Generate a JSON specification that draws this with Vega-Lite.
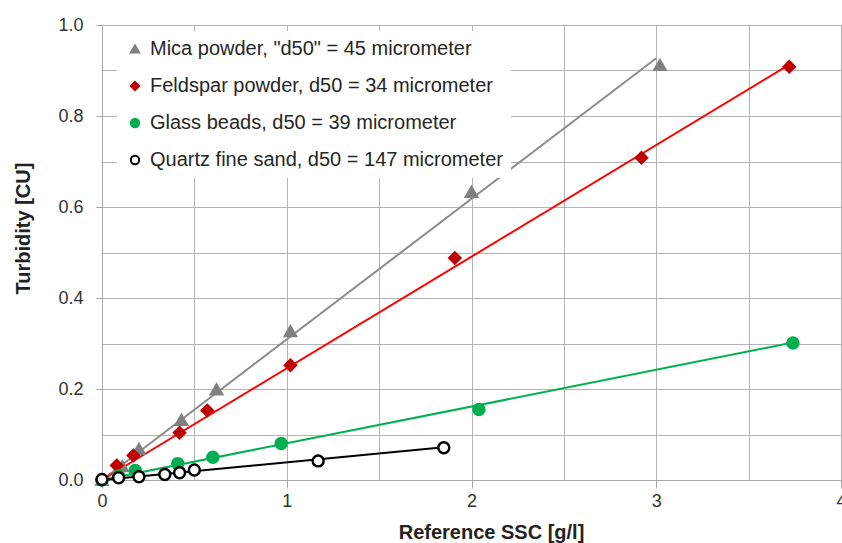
{
  "$schema": "https://vega.github.io/schema/vega-lite/v6.json",
  "width": 739,
  "height": 455,
  "autosize": "none",
  "padding": {"left": 102, "top": 25, "right": 1, "bottom": 63},
  "background": "white",
  "config": {
    "font": "Liberation Sans",
    "view": {"stroke": null}
  },
  "datasets": {
    "pts": [
      {"series": "Mica powder, \"d50\" = 45 micrometer", "ssc": 0, "turb": 0},
      {"series": "Mica powder, \"d50\" = 45 micrometer", "ssc": 0.11, "turb": 0.03},
      {"series": "Mica powder, \"d50\" = 45 micrometer", "ssc": 0.2, "turb": 0.068},
      {"series": "Mica powder, \"d50\" = 45 micrometer", "ssc": 0.43, "turb": 0.132},
      {"series": "Mica powder, \"d50\" = 45 micrometer", "ssc": 0.62, "turb": 0.199},
      {"series": "Mica powder, \"d50\" = 45 micrometer", "ssc": 1.02, "turb": 0.327},
      {"series": "Mica powder, \"d50\" = 45 micrometer", "ssc": 2.0, "turb": 0.633},
      {"series": "Mica powder, \"d50\" = 45 micrometer", "ssc": 3.02, "turb": 0.912},
      {"series": "Feldspar powder, d50 = 34 micrometer", "ssc": 0, "turb": 0},
      {"series": "Feldspar powder, d50 = 34 micrometer", "ssc": 0.08, "turb": 0.032},
      {"series": "Feldspar powder, d50 = 34 micrometer", "ssc": 0.17, "turb": 0.054},
      {"series": "Feldspar powder, d50 = 34 micrometer", "ssc": 0.42, "turb": 0.104},
      {"series": "Feldspar powder, d50 = 34 micrometer", "ssc": 0.57, "turb": 0.153},
      {"series": "Feldspar powder, d50 = 34 micrometer", "ssc": 1.02, "turb": 0.252},
      {"series": "Feldspar powder, d50 = 34 micrometer", "ssc": 1.91, "turb": 0.488},
      {"series": "Feldspar powder, d50 = 34 micrometer", "ssc": 2.92, "turb": 0.708},
      {"series": "Feldspar powder, d50 = 34 micrometer", "ssc": 3.72, "turb": 0.908},
      {"series": "Glass beads, d50 = 39 micrometer", "ssc": 0, "turb": 0},
      {"series": "Glass beads, d50 = 39 micrometer", "ssc": 0.09, "turb": 0.009},
      {"series": "Glass beads, d50 = 39 micrometer", "ssc": 0.18, "turb": 0.021},
      {"series": "Glass beads, d50 = 39 micrometer", "ssc": 0.41, "turb": 0.036},
      {"series": "Glass beads, d50 = 39 micrometer", "ssc": 0.6, "turb": 0.05},
      {"series": "Glass beads, d50 = 39 micrometer", "ssc": 0.97, "turb": 0.08},
      {"series": "Glass beads, d50 = 39 micrometer", "ssc": 2.04, "turb": 0.155},
      {"series": "Glass beads, d50 = 39 micrometer", "ssc": 3.74, "turb": 0.301},
      {"series": "Quartz fine sand, d50 = 147 micrometer", "ssc": 0, "turb": 0.001},
      {"series": "Quartz fine sand, d50 = 147 micrometer", "ssc": 0.09, "turb": 0.005},
      {"series": "Quartz fine sand, d50 = 147 micrometer", "ssc": 0.2, "turb": 0.007},
      {"series": "Quartz fine sand, d50 = 147 micrometer", "ssc": 0.34, "turb": 0.012},
      {"series": "Quartz fine sand, d50 = 147 micrometer", "ssc": 0.42, "turb": 0.016},
      {"series": "Quartz fine sand, d50 = 147 micrometer", "ssc": 0.5, "turb": 0.022},
      {"series": "Quartz fine sand, d50 = 147 micrometer", "ssc": 1.17, "turb": 0.042},
      {"series": "Quartz fine sand, d50 = 147 micrometer", "ssc": 1.85, "turb": 0.071}
    ],
    "fits": [
      {"fit": "Mica fit", "ssc": 0, "turb": 0},
      {"fit": "Mica fit", "ssc": 3.0, "turb": 0.927},
      {"fit": "Feldspar fit", "ssc": 0, "turb": 0},
      {"fit": "Feldspar fit", "ssc": 3.72, "turb": 0.913},
      {"fit": "Glass fit", "ssc": 0, "turb": 0},
      {"fit": "Glass fit", "ssc": 3.74, "turb": 0.302},
      {"fit": "Quartz fit", "ssc": 0, "turb": 0},
      {"fit": "Quartz fit", "ssc": 1.85, "turb": 0.072}
    ]
  },
  "encoding": {
    "x": {
      "field": "ssc", "type": "quantitative",
      "scale": {"domain": [0, 4], "nice": false, "zero": false},
      "axis": {
        "title": "Reference SSC [g/l]",
        "values": [0, 0.5, 1, 1.5, 2, 2.5, 3, 3.5, 4],
        "labelExpr": "datum.value % 1 === 0 ? format(datum.value, 'd') : ''",
        "grid": true, "gridColor": "#b4b4b4", "gridWidth": 1,
        "domainColor": "#a6a6a6", "tickColor": "#a6a6a6",
        "tickSize": 8,
        "tickOpacity": {"condition": {"test": "datum.value % 1 === 0", "value": 1}, "value": 0},
        "labelFontSize": 18, "labelColor": "#333333", "labelPadding": 4,
        "labelFlush": false, "labelOverlap": false,
        "titleFontSize": 20, "titleFontWeight": "bold", "titleColor": "#222222", "titlePadding": 12,
        "titleX": 389
      }
    },
    "y": {
      "field": "turb", "type": "quantitative",
      "scale": {"domain": [0, 1], "nice": false},
      "axis": {
        "title": "Turbidity [CU]",
        "values": [0, 0.1, 0.2, 0.3, 0.4, 0.5, 0.6, 0.7, 0.8, 0.9, 1.0],
        "labelExpr": "round(datum.value * 10) % 2 === 0 ? format(datum.value, '.1f') : ''",
        "grid": true, "gridColor": "#b4b4b4", "gridWidth": 1,
        "domainColor": "#a6a6a6", "tickColor": "#a6a6a6",
        "tickSize": 6,
        "tickOpacity": {"condition": {"test": "round(datum.value * 10) % 2 === 0", "value": 1}, "value": 0},
        "labelFontSize": 18, "labelColor": "#333333", "labelPadding": 13,
        "labelFlush": false, "labelOverlap": false,
        "titleFontSize": 20, "titleFontWeight": "bold", "titleColor": "#222222", "titlePadding": 24,
        "titleY": 203
      }
    }
  },
  "layer": [
    {
      "data": {"name": "fits"},
      "mark": {"type": "line", "strokeWidth": 2},
      "encoding": {
        "color": {
          "field": "fit", "type": "nominal",
          "scale": {
            "domain": ["Mica fit", "Feldspar fit", "Glass fit", "Quartz fit"],
            "range": ["#8c8c8c", "#ff0000", "#00b050", "#000000"]
          },
          "legend": null
        }
      }
    },
    {
      "data": {"name": "pts"},
      "mark": {"type": "point", "opacity": 1, "size": 120, "strokeWidth": 2.5},
      "encoding": {
        "fill": {
          "field": "series", "type": "nominal",
          "scale": {
            "domain": ["Mica powder, \"d50\" = 45 micrometer", "Feldspar powder, d50 = 34 micrometer", "Glass beads, d50 = 39 micrometer", "Quartz fine sand, d50 = 147 micrometer"],
            "range": ["#808080", "#c00000", "#00b050", "#ffffff"]
          },
          "legend": {
            "title": null, "orient": "none", "legendX": 15, "legendY": 6,
            "fillColor": "white", "padding": 8,
            "labelFontSize": 20, "labelColor": "#262626", "labelLimit": 600,
            "symbolSize": 70, "symbolStrokeWidth": 2,
            "rowPadding": 17, "labelOffset": 5
          }
        },
        "stroke": {
          "field": "series", "type": "nominal",
          "scale": {
            "domain": ["Mica powder, \"d50\" = 45 micrometer", "Feldspar powder, d50 = 34 micrometer", "Glass beads, d50 = 39 micrometer", "Quartz fine sand, d50 = 147 micrometer"],
            "range": ["#808080", "#c00000", "#00b050", "#000000"]
          }
        },
        "shape": {
          "field": "series", "type": "nominal",
          "scale": {
            "domain": ["Mica powder, \"d50\" = 45 micrometer", "Feldspar powder, d50 = 34 micrometer", "Glass beads, d50 = 39 micrometer", "Quartz fine sand, d50 = 147 micrometer"],
            "range": ["triangle-up", "diamond", "circle", "circle"]
          }
        }
      }
    }
  ]
}
